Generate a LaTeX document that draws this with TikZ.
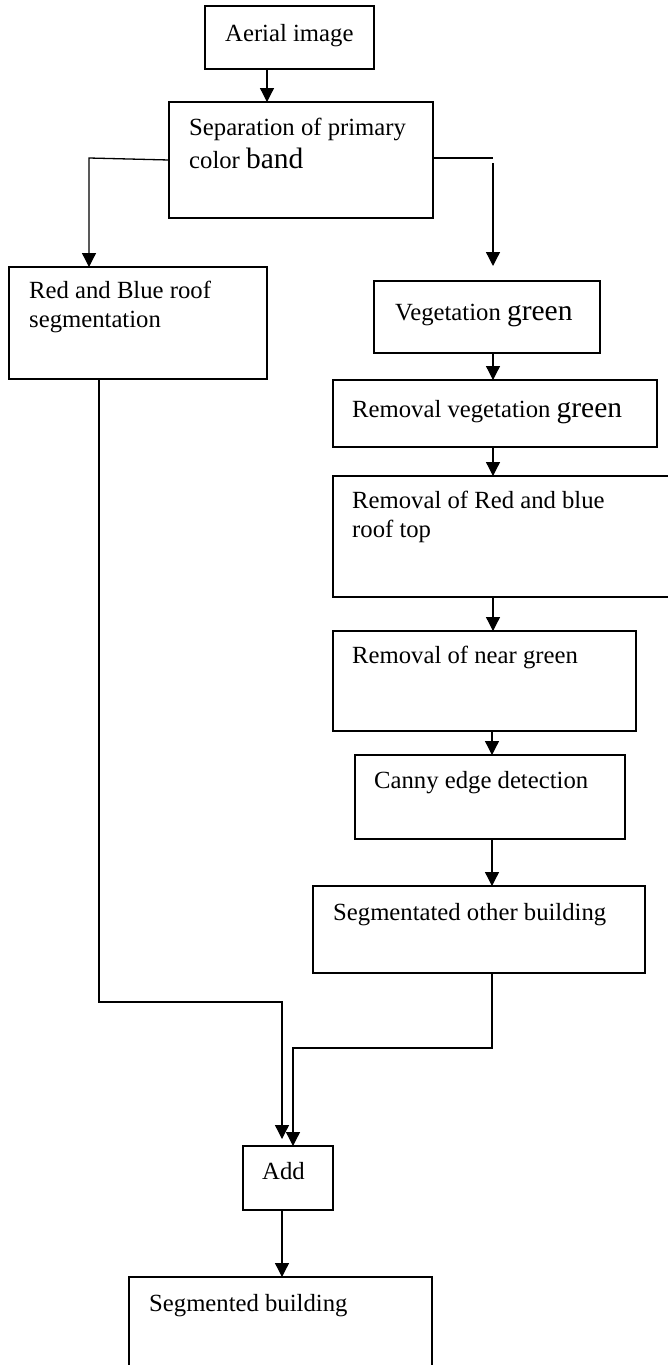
\documentclass[tikz,border=0pt]{standalone}
\usepackage{fontspec}
\setmainfont{Liberation Serif}
\usetikzlibrary{arrows.meta}
\newcommand{\bigw}[1]{{\fontsize{29.5}{32}\selectfont #1}}
\begin{document}
\begin{tikzpicture}[x=1pt,y=-1pt,
  box/.style={draw=black, line width=1.6pt, fill=none, inner sep=0pt, outer sep=0pt, anchor=north west},
  txt/.style={anchor=base west, inner sep=0pt, font=\fontsize{24.7}{28}\selectfont},
  conn/.style={draw=black, line width=1.3pt},
  arr/.style={conn, -{Triangle[length=14pt,width=14pt]}}]
\useasboundingbox (0,0) rectangle (668,1365);
\fill[white] (0,0) rectangle (668,1365);
\begin{scope}
\clip (0,0) rectangle (668,1365);
% boxes
\node[box, minimum width=169pt, minimum height=63pt] (aerial) at (205,6) {};
\node[box, minimum width=264pt, minimum height=116pt] (sep) at (169,102) {};
\node[box, minimum width=258pt, minimum height=112pt] (red) at (9,267) {};
\node[box, minimum width=226pt, minimum height=72pt] (veg) at (374,281) {};
\node[box, minimum width=324pt, minimum height=67pt] (remveg) at (333,380) {};
\node[box, minimum width=345pt, minimum height=121pt] (remrb) at (333,476) {};
\node[box, minimum width=303pt, minimum height=100pt] (near) at (333,631) {};
\node[box, minimum width=270pt, minimum height=84pt] (canny) at (355,755) {};
\node[box, minimum width=332pt, minimum height=87pt] (segoth) at (313,886) {};
\node[box, minimum width=90pt, minimum height=64pt] (add) at (243,1146) {};
\node[box, minimum width=303pt, minimum height=100pt] (segb) at (129,1277) {};
\end{scope}
% texts
\node[txt] (t1) at (225,41) {Aerial image};
\node[txt] (t2a) at (189,135) {Separation of primary};
\node[txt] (t2b) at (189,168) {color \bigw{band}};
\node[txt] (t3a) at (29,298) {Red and Blue roof};
\node[txt] (t3b) at (29,327) {segmentation};
\node[txt] (t4) at (395,320) {Vegetation \bigw{green}};
\node[txt] (t5) at (352,417) {Removal vegetation \bigw{green}};
\node[txt] (t6a) at (352,508) {Removal of Red and blue};
\node[txt] (t6b) at (352,537) {roof top};
\node[txt] (t7) at (352,663) {Removal of near green};
\node[txt] (t8) at (374,788) {Canny edge detection};
\node[txt] (t9) at (333,920) {Segmentated other building};
\node[txt] (t10) at (262,1179) {Add};
\node[txt] (t11) at (149,1311) {Segmented building};
% connectors
\draw[arr] (aerial.south -| 267,0) -- (sep.north -| 267,0);
\coordinate (lk) at (89,158);
\draw[arr] (sep.west) -- (lk) -- (lk |- red.north);
\coordinate (rk) at (493,158);
\coordinate (rs) at (493,163);
\coordinate (rt) at (493,266);
\draw[conn] (sep.east |- rk) -- (rk);
\draw[arr] (rs) -- (rt);
\draw[arr] (veg.south -| 493,0) -- (remveg.north -| 493,0);
\draw[arr] (remveg.south -| 493,0) -- (remrb.north -| 493,0);
\draw[arr] (remrb.south -| 493,0) -- (near.north -| 493,0);
\draw[arr] (near.south -| 492,0) -- (canny.north -| 492,0);
\draw[arr] (canny.south -| 492,0) -- (segoth.north -| 492,0);
\coordinate (sa) at (492,1048);
\coordinate (sb) at (293,1048);
\draw[arr] (segoth.south -| sa) -- (sa) -- (sb) -- (sb |- add.north);
\coordinate (ra) at (99,1002);
\coordinate (rb) at (282,1002);
\coordinate (rc) at (282,1139);
\draw[arr] (red.south -| ra) -- (ra) -- (rb) -- (rc);
\draw[arr] (add.south -| 282,0) -- (segb.north -| 282,0);
\end{tikzpicture}
\end{document}
